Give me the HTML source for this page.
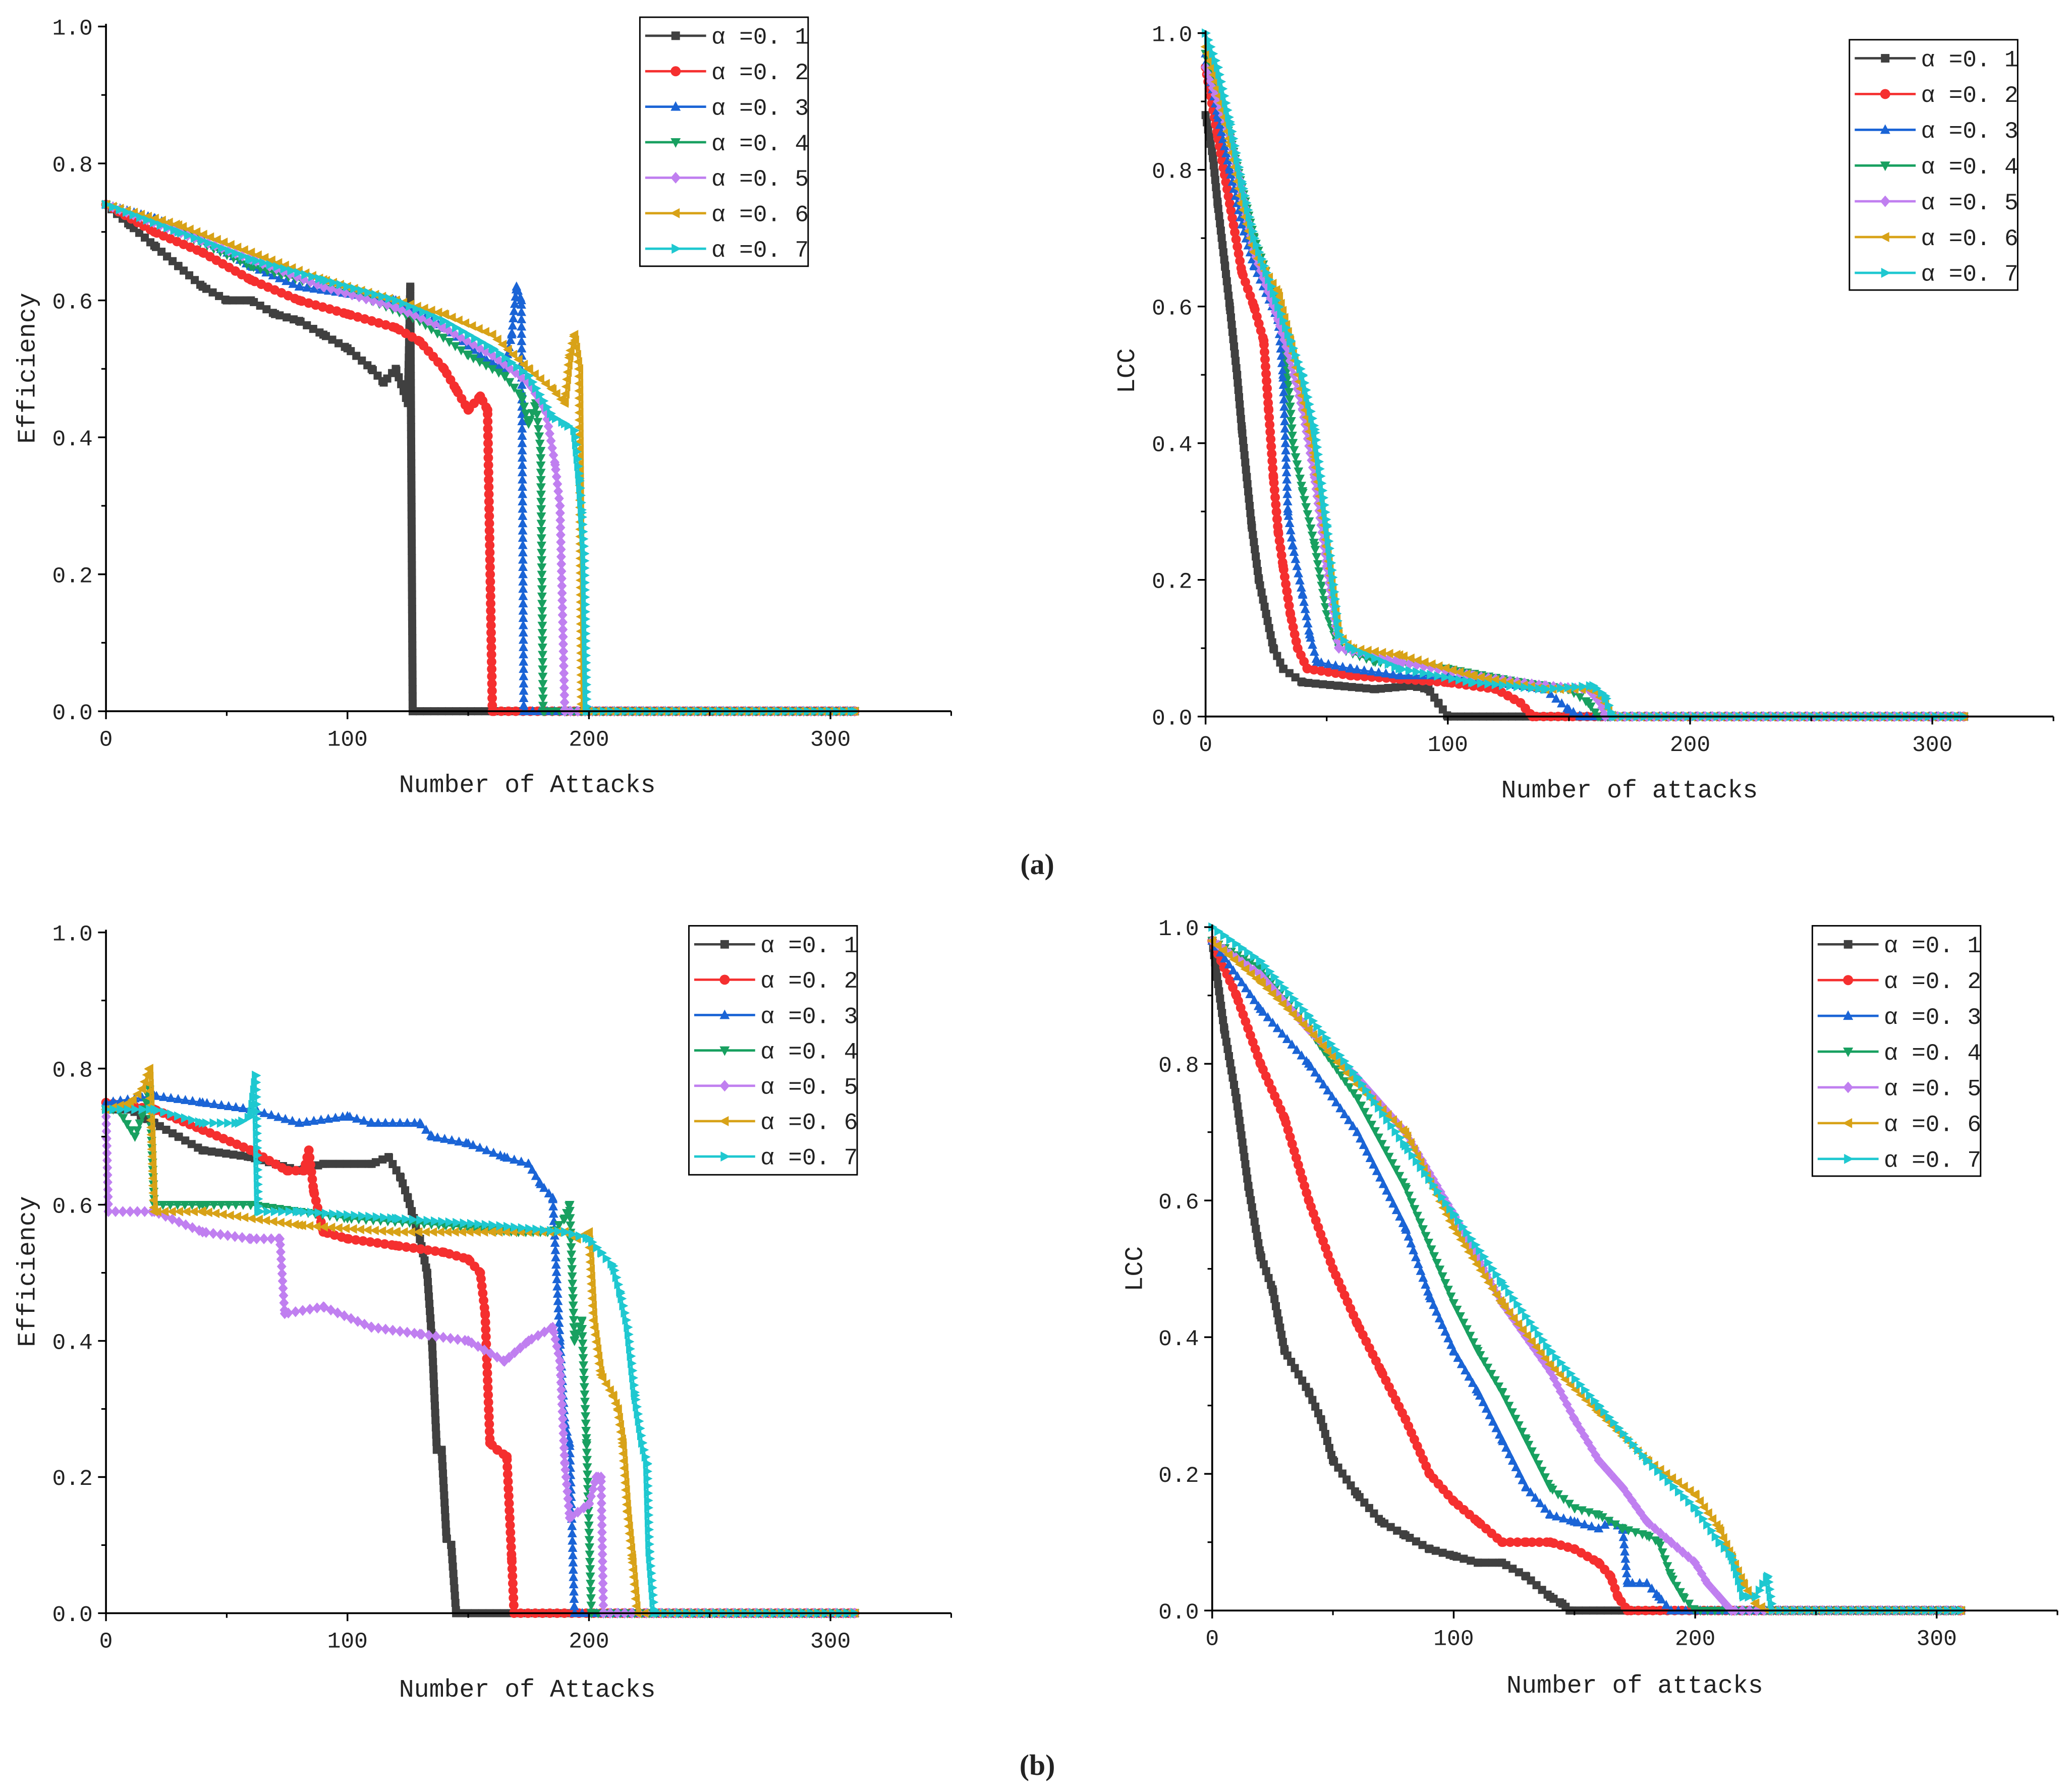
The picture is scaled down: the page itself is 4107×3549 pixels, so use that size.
<!DOCTYPE html>
<html><head><meta charset="utf-8">
<style>
html,body{margin:0;padding:0;background:#fff;}
svg{display:block;}
text{font-family:"Liberation Mono","Noto Sans CJK SC",monospace;fill:#222;}
</style></head>
<body>
<svg id="fig" width="4107" height="3549" viewBox="0 0 1564 1351.5" preserveAspectRatio="none" xmlns="http://www.w3.org/2000/svg">
<text x="783" y="660" text-anchor="middle" font-size="22" font-weight="bold" style="font-family:'Liberation Serif',serif">(a)</text>
<text x="783" y="1340" text-anchor="middle" font-size="22" font-weight="bold" style="font-family:'Liberation Serif',serif">(b)</text>
</svg>
<script>
const alphaLabels = ["α =0. 1","α =0. 2","α =0. 3","α =0. 4","α =0. 5","α =0. 6","α =0. 7"];
const xTicks = [0,100,200,300];
const yTicks = [0.0,0.2,0.4,0.6,0.8,1.0];
const yTickLabels = ["0.0","0.2","0.4","0.6","0.8","1.0"];

// Panel a-left: efficiency
const aEffX = [
 [0,10,20,30,40,50,60,70,80,90,100,110,115,120,125,126,127,310],
 [0,20,40,60,80,100,120,130,140,145,150,155,158,160,310],
 [0,20,40,60,80,100,120,140,155,165,168,170,172,173,310],
 [0,30,60,90,110,130,150,165,172,175,178,180,181,310],
 [0,30,60,90,120,140,160,175,182,186,188,190,310],
 [0,30,60,90,120,140,160,175,185,190,192,194,196,197,310],
 [0,30,60,90,120,140,160,175,185,190,194,196,197,198,199,310]];
const aEffY = [
 [0.74,0.71,0.68,0.65,0.62,0.60,0.60,0.58,0.57,0.55,0.53,0.50,0.48,0.50,0.45,0.62,0,0],
 [0.74,0.70,0.67,0.63,0.60,0.58,0.56,0.54,0.50,0.47,0.44,0.46,0.44,0,0],
 [0.74,0.72,0.69,0.65,0.62,0.61,0.60,0.56,0.52,0.50,0.55,0.62,0.60,0,0],
 [0.74,0.70,0.65,0.62,0.60,0.57,0.52,0.49,0.46,0.42,0.45,0.38,0,0],
 [0.74,0.70,0.66,0.62,0.59,0.56,0.52,0.48,0.44,0.36,0.30,0,0],
 [0.74,0.71,0.67,0.63,0.60,0.58,0.55,0.50,0.47,0.45,0.52,0.55,0.50,0,0],
 [0.74,0.70,0.66,0.63,0.60,0.57,0.53,0.49,0.43,0.42,0.41,0.34,0.29,0.23,0,0]];

// Panel a-right: LCC
const aLccX = [
 [0,3,5,8,10,13,15,17,19,22,25,28,32,40,55,70,85,92,96,100,313],
 [0,5,10,15,20,24,26,28,30,32,35,38,42,60,80,100,120,130,135,313],
 [0,5,10,15,20,25,30,32,34,36,40,43,46,60,80,100,120,140,150,155,313],
 [0,10,20,30,33,36,40,45,50,55,70,100,130,150,158,162,313],
 [0,10,20,30,35,40,45,50,55,80,110,140,158,163,165,313],
 [0,5,10,15,20,30,35,40,45,50,55,60,80,110,140,160,165,168,313],
 [0,5,10,15,20,30,35,40,45,50,55,60,80,110,140,160,165,168,313]];
const aLccY = [
 [0.88,0.82,0.75,0.66,0.60,0.50,0.42,0.35,0.28,0.20,0.15,0.10,0.07,0.05,0.045,0.04,0.045,0.04,0.02,0,0],
 [0.95,0.85,0.75,0.65,0.60,0.55,0.45,0.35,0.27,0.22,0.15,0.10,0.07,0.06,0.055,0.05,0.04,0.02,0,0],
 [0.97,0.88,0.80,0.72,0.66,0.62,0.58,0.50,0.30,0.25,0.18,0.12,0.08,0.07,0.06,0.06,0.05,0.04,0.01,0,0],
 [0.97,0.85,0.70,0.60,0.55,0.40,0.33,0.25,0.15,0.10,0.08,0.07,0.05,0.04,0.02,0,0],
 [0.95,0.85,0.68,0.58,0.52,0.45,0.35,0.22,0.10,0.08,0.06,0.045,0.04,0.02,0,0],
 [0.98,0.92,0.84,0.75,0.68,0.62,0.55,0.47,0.38,0.25,0.12,0.10,0.09,0.06,0.04,0.04,0.02,0,0],
 [1.0,0.95,0.87,0.78,0.70,0.60,0.55,0.50,0.42,0.28,0.12,0.10,0.07,0.05,0.04,0.045,0.03,0,0]];

// Panel b-left: efficiency
const bEffX = [
 [0,10,20,30,40,60,80,90,110,117,122,125,130,133,135,137,139,141,143,145,310],
 [0,20,40,60,75,82,84,86,90,100,120,140,150,155,157,159,162,166,168,169,310],
 [0,20,40,60,80,100,110,130,135,150,165,175,180,185,188,190,192,194,310],
 [0,5,12,16,18,20,40,60,100,140,170,185,190,192,194,197,199,201,310],
 [0,1,20,40,60,72,74,90,110,130,150,165,175,185,188,190,192,200,203,205,206,310],
 [0,10,15,18,20,40,80,120,160,190,195,200,202,205,210,212,214,216,218,220,310],
 [0,20,40,55,60,62,63,80,120,160,190,200,205,210,213,216,219,222,224,225,227,310]];
const bEffY = [
 [0.74,0.74,0.72,0.70,0.68,0.67,0.65,0.66,0.66,0.67,0.64,0.61,0.55,0.50,0.40,0.24,0.24,0.11,0.10,0,0],
 [0.75,0.74,0.71,0.68,0.65,0.65,0.68,0.62,0.56,0.55,0.54,0.53,0.52,0.50,0.44,0.25,0.24,0.23,0.08,0,0],
 [0.75,0.76,0.75,0.74,0.72,0.73,0.72,0.72,0.70,0.69,0.67,0.66,0.63,0.61,0.40,0.28,0.25,0,0],
 [0.74,0.74,0.70,0.74,0.77,0.60,0.60,0.60,0.58,0.57,0.56,0.56,0.58,0.60,0.40,0.43,0.25,0,0],
 [0.74,0.59,0.59,0.56,0.55,0.55,0.44,0.45,0.42,0.41,0.40,0.37,0.40,0.42,0.37,0.22,0.14,0.16,0.20,0.20,0,0],
 [0.74,0.75,0.77,0.80,0.59,0.59,0.57,0.56,0.56,0.56,0.55,0.56,0.43,0.35,0.32,0.30,0.25,0.15,0.08,0,0],
 [0.74,0.74,0.72,0.72,0.73,0.79,0.59,0.59,0.58,0.57,0.56,0.55,0.53,0.51,0.47,0.42,0.32,0.25,0.22,0.09,0,0]];

// Panel b-right: LCC
const bLccX = [
 [0,5,10,15,20,25,30,40,45,50,60,70,80,90,100,110,120,130,140,145,148,310],
 [0,10,20,30,40,50,60,70,80,90,100,110,120,130,140,150,160,165,168,172,310],
 [0,20,40,60,80,90,100,110,120,130,140,150,160,165,170,172,180,185,190,310],
 [0,20,40,60,80,100,110,120,130,140,150,160,170,180,185,190,195,200,310],
 [0,20,40,60,80,100,120,140,150,160,170,180,190,200,205,210,215,310],
 [0,20,40,60,80,100,120,140,160,180,200,210,215,220,225,230,310],
 [0,20,40,60,80,100,120,140,160,180,200,210,215,220,225,230,232,310]];
const bLccY = [
 [0.98,0.85,0.75,0.62,0.52,0.47,0.38,0.32,0.28,0.22,0.17,0.13,0.11,0.09,0.08,0.07,0.07,0.05,0.02,0.01,0,0],
 [0.98,0.90,0.80,0.72,0.60,0.50,0.42,0.35,0.28,0.20,0.16,0.13,0.10,0.10,0.10,0.09,0.07,0.05,0.02,0,0],
 [0.98,0.88,0.80,0.70,0.56,0.46,0.38,0.32,0.25,0.18,0.14,0.13,0.12,0.13,0.12,0.04,0.04,0.02,0,0],
 [0.98,0.94,0.85,0.75,0.62,0.45,0.38,0.32,0.25,0.18,0.15,0.14,0.12,0.11,0.10,0.05,0.02,0,0],
 [0.98,0.93,0.85,0.78,0.70,0.58,0.45,0.35,0.28,0.22,0.18,0.13,0.10,0.07,0.04,0.02,0,0],
 [0.98,0.92,0.85,0.77,0.70,0.56,0.45,0.36,0.29,0.22,0.17,0.12,0.08,0.04,0.01,0,0],
 [1.0,0.95,0.87,0.78,0.68,0.58,0.48,0.38,0.30,0.22,0.15,0.10,0.08,0.02,0.02,0.05,0,0]];

const colors = ["#404040","#f52f2f","#1a64d6","#18a060","#c07ff0","#d8a217","#1ec8d0"];
const shapes = ["square","circle","up","down","diamond","left","right"];
const NS = "http://www.w3.org/2000/svg";
const svg = document.getElementById("fig");

function mk(tag, attrs, parent){
  const e = document.createElementNS(NS, tag);
  for (const k in attrs) e.setAttribute(k, attrs[k]);
  (parent||svg).appendChild(e);
  return e;
}
function marker(shape, cx, cy, r, color, parent){
  let e;
  if (shape==="square") e = mk("rect",{x:cx-r*0.85,y:cy-r*0.85,width:r*1.7,height:r*1.7,fill:color},parent);
  else if (shape==="circle") e = mk("circle",{cx:cx,cy:cy,r:r,fill:color},parent);
  else {
    let p;
    if (shape==="up") p=[[0,-r*1.1],[r,r*0.8],[-r,r*0.8]];
    else if (shape==="down") p=[[0,r*1.1],[r,-r*0.8],[-r,-r*0.8]];
    else if (shape==="diamond") p=[[0,-r*1.15],[r,0],[0,r*1.15],[-r,0]];
    else if (shape==="left") p=[[-r*1.1,0],[r*0.8,-r],[r*0.8,r]];
    else p=[[r*1.1,0],[-r*0.8,-r],[-r*0.8,r]];
    e = mk("polygon",{points:p.map(q=>(cx+q[0])+","+(cy+q[1])).join(" "),fill:color},parent);
  }
  return e;
}

function panel(cfg){
  const g = mk("g",{});
  
  
  const xs = v => cfg.x0 + (v/350)*(cfg.x1-cfg.x0);
  const ys = v => cfg.y0 - v*(cfg.y0-cfg.y1);
  for (let s=0;s<7;s++){
    const sg = mk("g",{},g);
    
    
    const pts = cfg.X[s].map((v,i)=>[xs(v), ys(cfg.Y[s][i])]);
    const line = mk("polyline",{points:pts.map(p=>p.join(",")).join(" "),fill:"none",stroke:colors[s],"stroke-width":1.4},sg);
    
    
    pts.forEach(p=>marker(shapes[s],p[0],p[1],3.6,colors[s],sg));
    let carry = 0; const step = 5.5;
    for (let i=1;i<pts.length;i++){
      const dx=pts[i][0]-pts[i-1][0], dy=pts[i][1]-pts[i-1][1];
      const L=Math.hypot(dx,dy); let t=step-carry;
      while (t<L){ marker(shapes[s],pts[i-1][0]+dx*t/L,pts[i-1][1]+dy*t/L,3.6,colors[s],sg); t+=step; }
      carry = L-(t-step);
    }
  }
  const ax = mk("line",{x1:cfg.x0,y1:cfg.y1-2,x2:cfg.x0,y2:cfg.y0,stroke:"#000","stroke-width":1.4},g);
   
  const bx = mk("line",{x1:cfg.x0,y1:cfg.y0,x2:cfg.x1,y2:cfg.y0,stroke:"#000","stroke-width":1.4},g);
   
  xTicks.forEach(v=>{
    mk("line",{x1:xs(v),y1:cfg.y0,x2:xs(v),y2:cfg.y0+6,stroke:"#000","stroke-width":1.3},g);
    mk("line",{x1:xs(v+50),y1:cfg.y0,x2:xs(v+50),y2:cfg.y0+3.5,stroke:"#000","stroke-width":1.2},g);
    const t = mk("text",{x:xs(v),y:cfg.y0+26,"text-anchor":"middle","font-size":17},g);
    t.textContent = v;
     
  });
  yTicks.forEach((v,i)=>{
    mk("line",{x1:cfg.x0-6,y1:ys(v),x2:cfg.x0,y2:ys(v),stroke:"#000","stroke-width":1.3},g);
    if (i<5) mk("line",{x1:cfg.x0-3.5,y1:ys(v+0.1),x2:cfg.x0,y2:ys(v+0.1),stroke:"#000","stroke-width":1.2},g);
    const t = mk("text",{x:cfg.x0-10,y:ys(v)+6,"text-anchor":"end","font-size":17},g);
    t.textContent = yTickLabels[i];
     
  });
  const xt = mk("text",{x:cfg.xtx,y:cfg.xty,"text-anchor":"middle","font-size":19},g);
  xt.textContent = cfg.xtitle;
   
  const yt = mk("text",{x:0,y:0,"text-anchor":"middle","font-size":19,transform:`translate(${cfg.ytx},${cfg.yty}) rotate(-90)`},g);
  yt.textContent = cfg.ytitle;
   
  const lg = mk("g",{},g);
   
  mk("rect",{x:cfg.lx,y:cfg.ly,width:127,height:cfg.lh,fill:"#fff",stroke:"#000","stroke-width":1.1},lg);
  for (let s=0;s<7;s++){
    const yy = cfg.ly+14+s*cfg.lstep;
    const le = mk("g",{},lg);
     
    mk("line",{x1:cfg.lx+4,y1:yy,x2:cfg.lx+50,y2:yy,stroke:colors[s],"stroke-width":1.8},le);
    marker(shapes[s],cfg.lx+27,yy,3.8,colors[s],le);
    const t = mk("text",{x:cfg.lx+54,y:yy+6,"font-size":17.5},le);
    t.textContent = alphaLabels[s];
  }
}

panel({name:"panel-a-efficiency",X:aEffX,Y:aEffY,x0:80,x1:718,y0:537,y1:20,xtitle:"Number of Attacks",xtx:398,xty:598,ytitle:"Efficiency",ytx:26,yty:278,lx:483,ly:13,lh:188,lstep:26.8});
panel({name:"panel-a-lcc",X:aLccX,Y:aLccY,x0:910,x1:1550,y0:541,y1:25,xtitle:"Number of attacks",xtx:1230,xty:602,ytitle:"LCC",ytx:856,yty:280,lx:1396,ly:30,lh:189,lstep:27});
panel({name:"panel-b-efficiency",X:bEffX,Y:bEffY,x0:80,x1:718,y0:1218,y1:704,xtitle:"Number of Attacks",xtx:398,xty:1281,ytitle:"Efficiency",ytx:26,yty:960,lx:520,ly:699,lh:188,lstep:26.7});
panel({name:"panel-b-lcc",X:bLccX,Y:bLccY,x0:915,x1:1553,y0:1216,y1:700,xtitle:"Number of attacks",xtx:1234,xty:1278,ytitle:"LCC",ytx:862,yty:958,lx:1368,ly:699,lh:189,lstep:27});
</script>
</body></html>
